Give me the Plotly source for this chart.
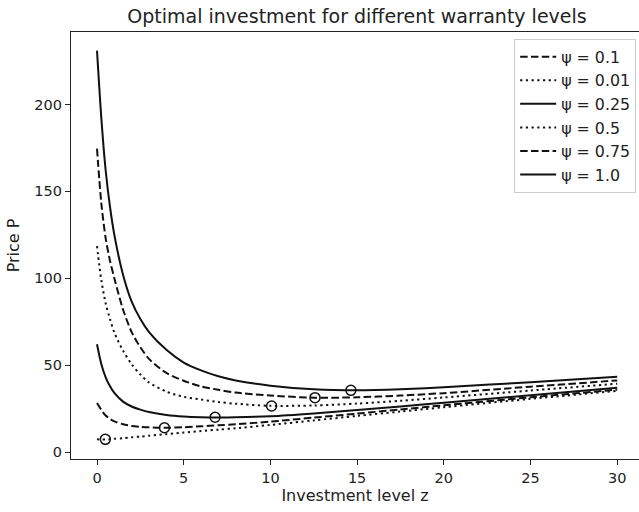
import plotly.graph_objects as go

# ---- data ----
z_grid = [0, 0.25, 0.5, 0.75, 1, 1.5, 2, 2.5, 3, 4, 5, 6, 7, 8, 10, 12.5, 15, 17.5, 20, 25, 30]

p_psi_0_1 = [28.2, 24.2, 21.0, 19.1, 17.7, 16.0, 15.0, 14.5, 14.2, 14.0, 14.3, 14.8, 15.4, 16.0, 17.5, 19.8, 22.1, 24.5, 26.9, 31.5, 35.9]
p_psi_0_01 = [7.3, 7.2, 7.2, 7.3, 7.6, 8.0, 8.5, 8.9, 9.4, 10.3, 11.2, 12.1, 12.9, 13.7, 15.6, 18.2, 20.8, 23.3, 25.8, 30.6, 35.2]
p_psi_0_25 = [62.0, 50.5, 43.0, 37.8, 34.0, 29.0, 26.2, 24.4, 23.0, 21.3, 20.4, 20.0, 19.9, 20.0, 20.6, 22.2, 24.2, 26.2, 28.4, 32.7, 37.0]
p_psi_0_5 = [118.5, 98.8, 85.5, 76.5, 68.7, 58.4, 50.5, 44.6, 40.0, 34.8, 31.8, 30.2, 28.8, 27.8, 26.6, 26.8, 27.9, 29.5, 31.4, 35.4, 39.3]
p_psi_0_75 = [174.6, 143.0, 123.0, 110.0, 100.0, 82.0, 69.0, 60.3, 53.6, 45.5, 41.0, 37.8, 35.8, 34.2, 32.5, 31.3, 31.5, 32.5, 33.9, 37.6, 41.2]
p_psi_1_0 = [231.0, 192.0, 162.0, 141.0, 125.0, 102.0, 86.5, 76.5, 69.0, 58.8, 51.5, 47.0, 43.6, 41.2, 38.2, 36.1, 35.5, 36.1, 37.3, 40.2, 43.3]

series_labels = ["ψ = 0.1", "ψ = 0.01", "ψ = 0.25", "ψ = 0.5", "ψ = 0.75", "ψ = 1.0"]
series_values = [p_psi_0_1, p_psi_0_01, p_psi_0_25, p_psi_0_5, p_psi_0_75, p_psi_1_0]
series_styles = ["dashed", "dotted", "solid", "dotted", "dashed", "solid"]

# optimal points (circles)
z_opt = [3.89, 0.48, 6.81, 10.07, 12.57, 14.64]
p_opt = [14.0, 7.3, 20.0, 26.5, 31.3, 35.5]

x_ticks = [0, 5, 10, 15, 20, 25, 30]
y_ticks = [0, 50, 100, 150, 200]

# ---- figure ----
dash_map = {"dashed": "7.5px,3.3px", "dotted": "2.2px,3.5px", "solid": "solid"}
FONT = "DejaVu Sans"
INK = "#111111"
TXT = "#222222"

fig = go.Figure()
for label, vals, style in zip(series_labels, series_values, series_styles):
    fig.add_trace(go.Scatter(
        x=z_grid, y=vals, mode="lines", name=label,
        line=dict(color=INK, width=2, dash=dash_map[style], shape="spline", smoothing=0.8),
    ))

fig.add_trace(go.Scatter(
    x=z_opt, y=p_opt, mode="markers", showlegend=False,
    marker=dict(symbol="circle-open", size=10, color=INK, line=dict(width=1.5, color=INK)),
))

L, R, T, B = 71, 0, 31.5, 53
W, H = 639, 512
plot_w = W - L - R
plot_h = H - T - B
px_per_z = 17.34
x_lo = -1.5
x_hi = x_lo + plot_w / px_per_z

fig.update_layout(
    width=W, height=H,
    margin=dict(l=L, r=R, t=T, b=B, pad=0),
    paper_bgcolor="white", plot_bgcolor="white",
    font=dict(family=FONT, size=14, color=TXT),
    title=dict(text="Optimal investment for different warranty levels",
               x=(357 - L) / plot_w, xref="paper", xanchor="center",
               y=1 - 16 / H, yanchor="middle",
               font=dict(family=FONT, size=19, color=TXT)),
    showlegend=True,
    legend=dict(
        x=0.995, y=1 - (38.5 - T) / plot_h, xanchor="right", yanchor="top",
        bgcolor="rgba(255,255,255,0.8)", bordercolor="#cccccc", borderwidth=1,
        font=dict(family=FONT, size=15.8, color=TXT),
        itemwidth=36,
    ),
)

fig.update_xaxes(
    range=[x_lo, x_hi], tickvals=x_ticks, ticktext=[str(v) for v in x_ticks],
    showgrid=False, zeroline=False,
    showline=True, linecolor=TXT, linewidth=1.2, mirror=True,
    ticks="outside", ticklen=5, tickwidth=1, tickcolor=TXT,
    tickfont=dict(family=FONT, size=14.5, color=TXT),
    title=dict(text="Investment level z", font=dict(family=FONT, size=16, color=TXT), standoff=5),
)
fig.update_yaxes(
    range=[-4.0, 241.7], tickvals=y_ticks, ticktext=[str(v) for v in y_ticks],
    showgrid=False, zeroline=False,
    showline=True, linecolor=TXT, linewidth=1.2, mirror=False,
    ticks="outside", ticklen=5, tickwidth=1, tickcolor=TXT,
    tickfont=dict(family=FONT, size=14.5, color=TXT),
    title=dict(text="Price P", font=dict(family=FONT, size=16, color=TXT), standoff=10),
)

fig.write_html("out.html")
